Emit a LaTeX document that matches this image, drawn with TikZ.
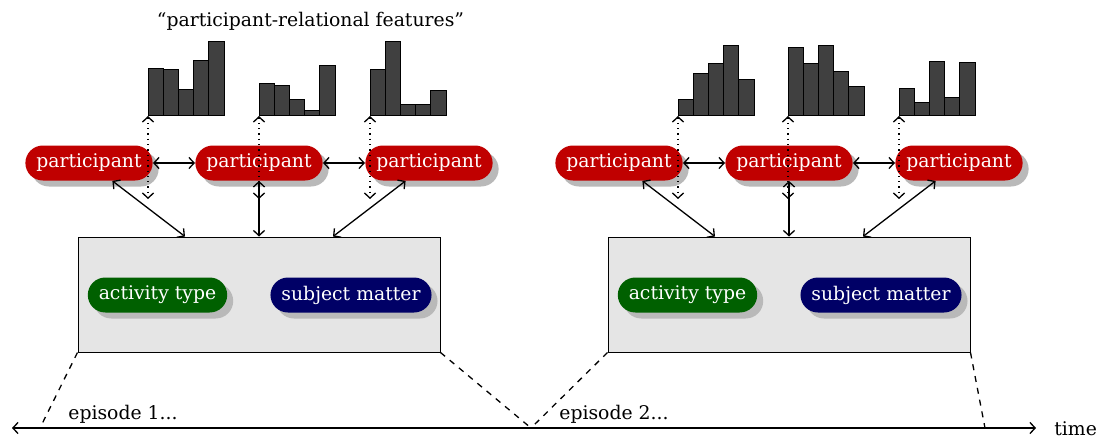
\documentclass[tikz,border=0pt]{standalone}
\usepackage{fontspec}
\setmainfont{DejaVu Serif}
\usetikzlibrary{shadows,arrows.meta}
\definecolor{pred}{RGB}{192,0,0}
\definecolor{pgreen}{RGB}{0,96,0}
\definecolor{pblue}{RGB}{0,0,102}
\definecolor{boxgray}{RGB}{229,229,229}
\definecolor{histgray}{RGB}{64,64,64}
\definecolor{shadowgray}{RGB}{185,185,185}
\begin{document}
\begin{tikzpicture}[x=0.5pt,y=-0.5pt,
  txt/.style={font=\fontsize{9.4}{11}\selectfont, inner sep=0pt},
  pill/.style={txt, rounded corners=8.75pt, minimum height=17.5pt, inner xsep=5.5pt, inner ysep=0pt, text=white,
    drop shadow={shadow xshift=3pt, shadow yshift=-3pt, fill=shadowgray, opacity=1}},
  part/.style={pill, fill=pred},
  act/.style={pill, fill=pgreen},
  subj/.style={pill, fill=pblue},
  epbox/.style={draw, fill=boxgray, line width=0.5pt, minimum width=181pt, minimum height=57.5pt, inner sep=0pt},
  tip/.tip={Straight Barb[length=2.6pt, width=5.6pt]},
  link/.style={tip-tip, line width=0.65pt},
  dlink/.style={tip-tip, line width=0.65pt, dotted},
  bar/.style={draw, fill=histgray, line width=0.4pt},
  trail/.style={dashed, line width=0.65pt},
]
\useasboundingbox (0,0) rectangle (1104,439);

% episode boxes
\node[epbox] (e1) at (259,294.5) {};
\node[epbox] (e2) at (789,294.5) {};

\node[act] (a1) at (157.5,295) {activity type};
\node[subj] (s1) at (351,295) {subject matter};
\node[act] (a2) at (687.5,295) {activity type};
\node[subj] (s2) at (881,295) {subject matter};

% participants
\node[part] (p11) at (89,163) {participant};
\node[part] (p12) at (259,163) {participant};
\node[part] (p13) at (429,163) {participant};
\node[part] (p21) at (619,163) {participant};
\node[part] (p22) at (789,163) {participant};
\node[part] (p23) at (959,163) {participant};

% histograms
\foreach \h [count=\i from 0] in {47,46,26,55,74} \draw[bar] (148+\i*15.2,115) rectangle ++(15.2,-\h);
\foreach \h [count=\i from 0] in {32,30,16,5,50} \draw[bar] (259+\i*15.2,115) rectangle ++(15.2,-\h);
\foreach \h [count=\i from 0] in {46,74,11,11,25} \draw[bar] (370+\i*15.2,115) rectangle ++(15.2,-\h);
\foreach \h [count=\i from 0] in {16,42,52,70,36} \draw[bar] (678+\i*15.2,115) rectangle ++(15.2,-\h);
\foreach \h [count=\i from 0] in {68,52,70,44,29} \draw[bar] (788+\i*15.2,115) rectangle ++(15.2,-\h);
\foreach \h [count=\i from 0] in {27,13,54,18,53} \draw[bar] (899+\i*15.2,115) rectangle ++(15.2,-\h);

\node[txt, anchor=base] (title) at (310.5,26) {``participant-relational features''};

% connector endpoints
\coordinate (h11) at (148,116); \coordinate (d11) at (148,199);
\coordinate (h12) at (259,116); \coordinate (d12) at (259,199);
\coordinate (h13) at (370,116); \coordinate (d13) at (370,199);
\coordinate (h21) at (678,116); \coordinate (d21) at (678,199);
\coordinate (h22) at (788,116); \coordinate (d22) at (788,199);
\coordinate (h23) at (899,116); \coordinate (d23) at (899,199);
\coordinate (e1l) at ([xshift=-37pt]e1.north);
\coordinate (e1r) at ([xshift=37pt]e1.north);
\coordinate (e2l) at ([xshift=-37pt]e2.north);
\coordinate (e2r) at ([xshift=37pt]e2.north);

% participant links
\draw[link] (p11) -- (p12);
\draw[link] (p12) -- (p13);
\draw[link] (p21) -- (p22);
\draw[link] (p22) -- (p23);
\draw[link] (p11) -- (e1l);
\draw[link] (p12) -- (e1.north);
\draw[link] (p13) -- (e1r);
\draw[link] (p21) -- (e2l);
\draw[link] (p22) -- (e2.north);
\draw[link] (p23) -- (e2r);

% dotted links
\foreach \k in {11,12,13,21,22,23} \draw[dlink] (h\k) -- (d\k);

% time axis
\coordinate (axL) at (12,428);
\coordinate (axR) at (1036,428);
\coordinate (t1) at (40,428);
\coordinate (t2) at (531,428);
\coordinate (t3) at (985,428);
\draw[link] (axL) -- (axR);
\node[txt, anchor=base west] (time) at (1054,435) {time};
\node[txt, anchor=base west] (ep1) at (68,419) {episode 1...};
\node[txt, anchor=base west] (ep2) at (559,419) {episode 2...};

\draw[trail] (e1.south west) -- (t1);
\draw[trail] (e1.south east) -- (t2);
\draw[trail] (e2.south west) -- (t2);
\draw[trail] (e2.south east) -- (t3);
\end{tikzpicture}
\end{document}
